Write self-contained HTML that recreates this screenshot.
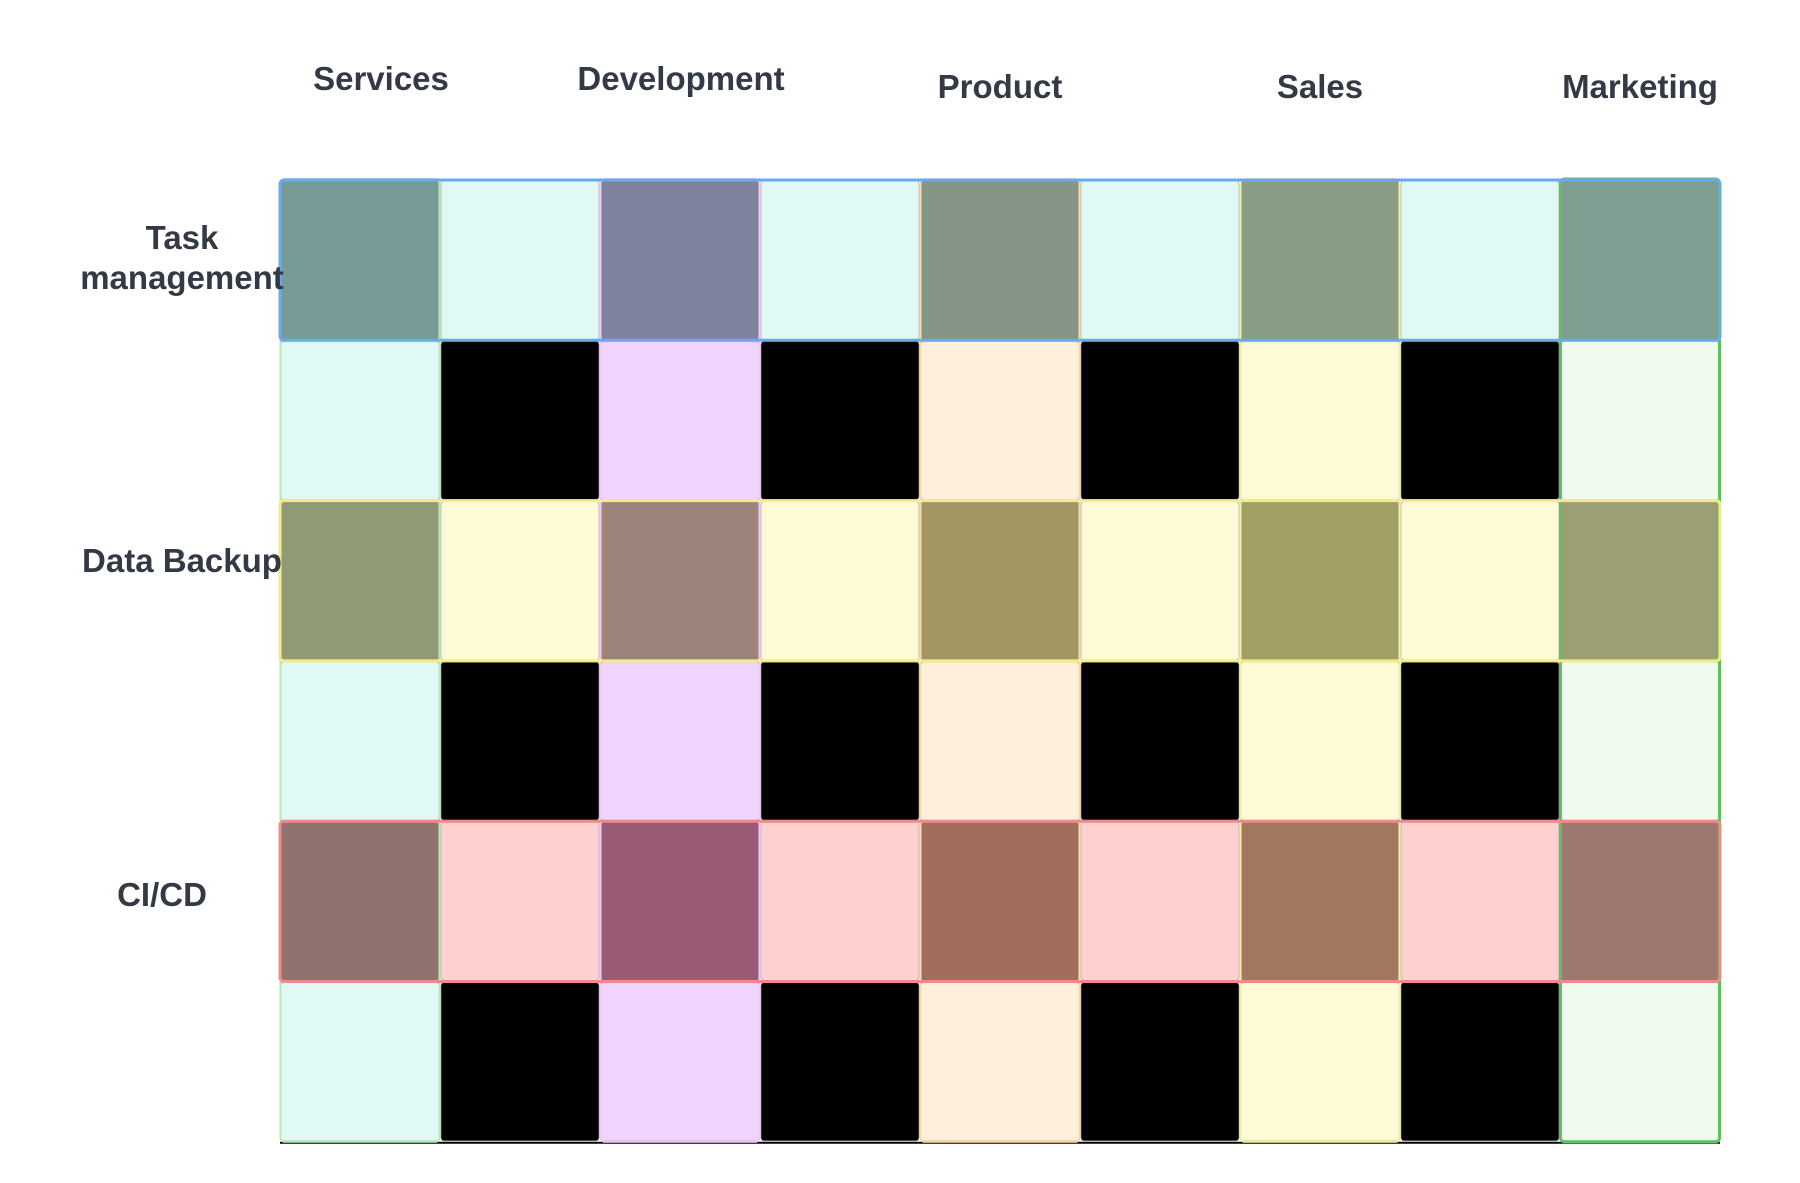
<!DOCTYPE html>
<html><head><meta charset="utf-8"><style>
html,body{margin:0;padding:0;background:#fff;}
svg{display:block;}
text{font-family:"Liberation Sans",sans-serif;font-weight:bold;font-size:33px;fill:#343a45;}
</style></head><body>
<svg id="chart" width="1800" height="1183" viewBox="0 0 1800 1183" xmlns="http://www.w3.org/2000/svg"></svg>
<script>
const columns = ["Services","Development","Product","Sales","Marketing"];
const rows = ["Task management","Data Backup","CI/CD"];
const colFill = ["#e0f9f4","#f0d4fd","#ffefdb","#fffad6","#f0fbf0"];
const colStroke = ["#b5eab5","#f7c6f7","#fad9a5","#f3f0a0","#5ec15e"];
const rowFill = ["#e0f9f4","#fffad6","#ffd0d0"];
const rowStroke = ["#6aa9ef","#f3ec8a","#f08a8a"];
const crossFill = [
  ["#769b97","#7f829c","#859585","#899d84","#7e9e92"],
  ["#8f9a76","#9c847a","#a19563","#a19f63","#9c9e73"],
  ["#90736e","#9a5b76","#a16e5e","#a3765e","#9d7770"]
];
const colLabelX = [381,681,1000,1320,1640];
const colLabelY = [90,90,98,98,98];
const rowLabelX = [182,182,162];
const rowLabelY = [[249,289],[572],[906]];
const rowLabelLines = [["Task","management"],["Data Backup"],["CI/CD"]];

const svg = document.getElementById('chart');
const NS = "http://www.w3.org/2000/svg";
const X0 = 280, Y0 = 180, CW = 160, CH = 160.3;
const cx = i => X0 + i*CW;
const cy = j => Y0 + j*CH;
function mk(tag, attrs){const e=document.createElementNS(NS,tag);for(const k in attrs)e.setAttribute(k,attrs[k]);svg.appendChild(e);return e;}

for(let j=0;j<rows.length*2;j++){
  for(let i=0;i<columns.length*2-1;i++){
    let fill;
    const ci=Math.floor(i/2), ri=Math.floor(j/2);
    if(j%2===0){ fill = (i%2===0)? crossFill[ri][ci] : rowFill[ri]; }
    else { fill = (i%2===0)? colFill[ci] : "#000000"; }
    const r = mk('rect',{x:cx(i)+1,y:cy(j)+1,width:CW-2,height:CH-2,rx:3,fill:fill,stroke:"#9aa0a6","stroke-width":0.6});
    
    
  }
}
const bl = mk('line',{x1:X0,y1:Y0+CH*6+1,x2:cx(9),y2:Y0+CH*6+1,stroke:"#000","stroke-width":2});


for(let c=0;c<columns.length;c++){
  const r = mk('rect',{x:cx(c*2)+0.5,y:Y0-1,width:CW-1,height:CH*6+1,rx:4,fill:"none",stroke:colStroke[c],"stroke-width":c===4?3:2});
  
  
}
for(let r0=0;r0<rows.length;r0++){
  const r = mk('rect',{x:X0,y:cy(r0*2),width:CW*9,height:CH,rx:4,fill:"none",stroke:rowStroke[r0],"stroke-width":3});
  
  
}
for(let c=0;c<columns.length;c++){
  const t = mk('text',{x:colLabelX[c],y:colLabelY[c],"text-anchor":"middle"});
  t.textContent = columns[c];
  
  
}
for(let r0=0;r0<rows.length;r0++){
  const t = mk('text',{x:rowLabelX[r0],y:rowLabelY[r0][0],"text-anchor":"middle"});
  rowLabelLines[r0].forEach((ln,k)=>{
    const s=document.createElementNS(NS,'tspan');
    s.setAttribute('x',rowLabelX[r0]);s.setAttribute('y',rowLabelY[r0][k]);
    s.textContent=ln;t.appendChild(s);
  });
  
  
}
</script>
</body></html>
